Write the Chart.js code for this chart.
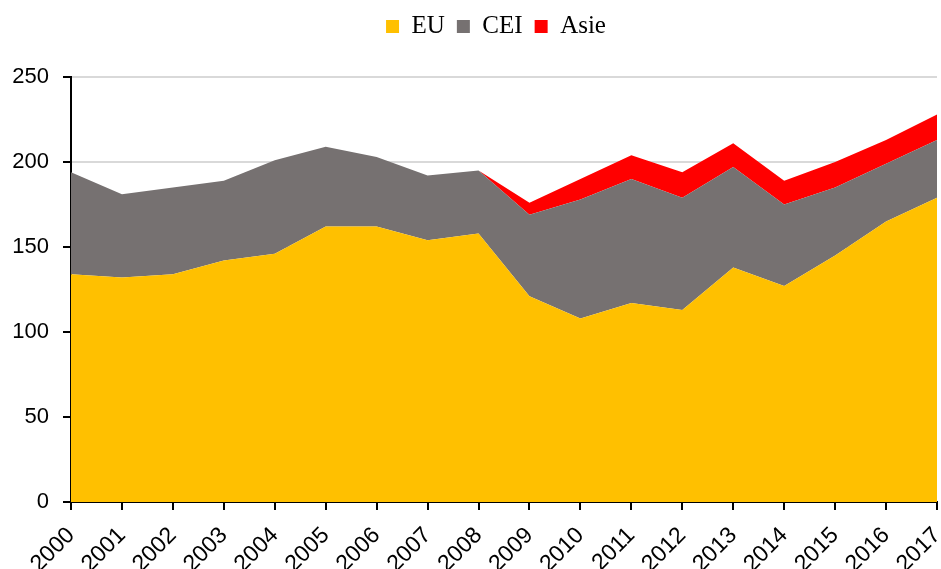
<!DOCTYPE html>
<html>
<head>
<meta charset="utf-8">
<script src="https://cdn.jsdelivr.net/npm/chart.js@4"></script>
<style>
  html, body { margin: 0; padding: 0; background: #fff; }
  #wrap { width: 941px; height: 569px; }
</style>
</head>
<body>
<div id="wrap"><canvas id="c" width="941" height="569"></canvas></div>
<script>
const years = ['2000','2001','2002','2003','2004','2005','2006','2007','2008','2009','2010','2011','2012','2013','2014','2015','2016','2017'];
const eu   = [134,132,134,142,146,162,162,154,158,121,108,117,113,138,127,145,165,179];
const cei  = [60,49,51,47,55,47,41,38,37,48,70,73,66,59,48,40,34,34];
const asie = [0,0,0,0,0,0,0,0,0,7,12,14,15,14,14,15,14,15];
const yTicks = [0,50,100,150,200,250];

const yFont = { family: "'Liberation Sans', Arial, sans-serif", size: 22 };
const xFont = { family: "'Liberation Sans', Arial, sans-serif", size: 23 };

const legendHeightPlugin = {
  id: 'legendHeight',
  afterInit(chart) {
    const lg = chart.legend;
    if (!lg) return;
    const orig = lg.fit;
    lg.fit = function () { orig.call(this); this.height = 75; };
  },
  afterLayout(chart) {
    if (chart.legend) { chart.legend.left -= 16; }
  }
};

new Chart(document.getElementById('c'), {
  type: 'line',
  data: {
    labels: years,
    datasets: [
      { label: 'EU', data: eu, backgroundColor: '#FFC000', borderColor: '#FFC000', borderWidth: 0, fill: 'origin', pointRadius: 0, tension: 0 },
      { label: 'CEI', data: cei, backgroundColor: '#767171', borderColor: '#767171', borderWidth: 0, fill: '-1', pointRadius: 0, tension: 0 },
      { label: 'Asie', data: asie, backgroundColor: '#FF0000', borderColor: '#FF0000', borderWidth: 0, fill: '-1', pointRadius: 0, tension: 0 }
    ]
  },
  plugins: [legendHeightPlugin],
  options: {
    responsive: false,
    animation: false,
    devicePixelRatio: 1,
    layout: { padding: { top: 2, right: 4, bottom: 0, left: 0 } },
    plugins: {
      legend: {
        position: 'top',
        fullSize: false,
        labels: {
          boxWidth: 13, boxHeight: 13, padding: 12,
          color: '#000',
          font: { family: "'Liberation Serif', 'Times New Roman', serif", size: 25 }
        }
      },
      tooltip: { enabled: false }
    },
    scales: {
      x: {
        offset: false,
        grid: { drawOnChartArea: false, tickColor: '#000', tickLength: 8, lineWidth: 2 },
        border: { color: '#000', width: 2 },
        ticks: { color: '#000', font: xFont, maxRotation: 45, minRotation: 45, padding: 12, autoSkip: false },
        afterFit: (s) => { s.height = 67; s.paddingRight = 0; s.paddingLeft = 0; }
      },
      y: {
        stacked: true,
        min: 0, max: 250,
        afterBuildTicks: (s) => { s.ticks = yTicks.map(v => ({ value: v })); },
        grid: { color: '#d9d9d9', lineWidth: 2, tickColor: '#000', tickLength: 8 },
        border: { color: '#000', width: 2 },
        ticks: { color: '#000', font: yFont, padding: 14 },
        afterFit: (s) => { s.width = 71; }
      }
    }
  }
});
</script>
</body>
</html>
